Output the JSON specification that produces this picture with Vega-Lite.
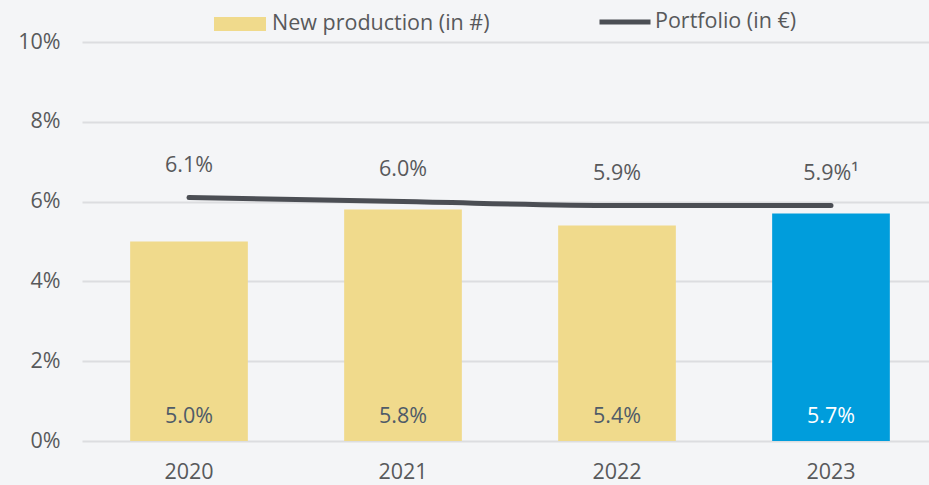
{
  "$schema": "https://vega.github.io/schema/vega-lite/v6.json",
  "width": 847,
  "height": 399,
  "autosize": {"type": "none"},
  "padding": {"left": 82, "top": 42, "right": 0, "bottom": 44},
  "background": "#f4f5f7",
  "config": {
    "view": {"stroke": null},
    "font": "Open Sans",
    "axis": {"labelFont": "Open Sans", "labelFontSize": 21.5, "labelColor": "#58595b", "domain": false, "ticks": false},
    "legend": {"labelFont": "Open Sans", "labelFontSize": 21.5, "labelColor": "#58595b", "labelLimit": 0}
  },
  "data": {
    "values": [
      {"year": "2020", "newprod": 5.0, "portfolio": 6.1, "np_label": "5.0%", "pf_label": "6.1%", "s1": "New production (in #)", "s2": "Portfolio (in €)"},
      {"year": "2021", "newprod": 5.8, "portfolio": 6.0, "np_label": "5.8%", "pf_label": "6.0%", "s1": "New production (in #)", "s2": "Portfolio (in €)"},
      {"year": "2022", "newprod": 5.4, "portfolio": 5.9, "np_label": "5.4%", "pf_label": "5.9%", "s1": "New production (in #)", "s2": "Portfolio (in €)"},
      {"year": "2023", "newprod": 5.7, "portfolio": 5.9, "np_label": "5.7%", "pf_label": "5.9%¹", "s1": "New production (in #)", "s2": "Portfolio (in €)"}
    ]
  },
  "encoding": {
    "x": {
      "field": "year", "type": "nominal", "title": null,
      "scale": {"range": [0, 856], "paddingInner": 0.45, "paddingOuter": 0.225},
      "axis": {"labelAngle": 0, "labelPadding": 20, "grid": false}
    }
  },
  "layer": [
    {
      "mark": {"type": "bar"},
      "encoding": {
        "y": {
          "field": "newprod", "type": "quantitative", "title": null,
          "scale": {"domain": [0, 10]},
          "axis": {"values": [0, 2, 4, 6, 8, 10], "labelExpr": "datum.value + '%'", "labelPadding": 22, "grid": true, "gridColor": "#dcdde0", "gridWidth": 2}
        },
        "fill": {
          "condition": {"test": "datum.year === '2023'", "value": "#009ddc"},
          "field": "s1", "type": "nominal",
          "scale": {"range": ["#f0da8c"]},
          "legend": {"title": null, "orient": "none", "legendX": 132, "legendY": -44, "symbolType": "M-1,-0.27H1V0.27H-1Z", "symbolSize": 2704, "symbolStrokeWidth": 0, "labelOffset": 6}
        }
      }
    },
    {
      "mark": {"type": "text", "fontSize": 21.5, "baseline": "middle", "dy": -24},
      "encoding": {
        "y": {"datum": 0, "type": "quantitative"},
        "text": {"field": "np_label"},
        "color": {"condition": {"test": "datum.year === '2023'", "value": "#ffffff"}, "value": "#4f5b68"}
      }
    },
    {
      "mark": {"type": "line", "interpolate": "monotone", "strokeWidth": 5, "strokeCap": "round"},
      "encoding": {
        "y": {"field": "portfolio", "type": "quantitative"},
        "stroke": {
          "field": "s2", "type": "nominal",
          "scale": {"range": ["#4b4e54"]},
          "legend": {"title": null, "orient": "none", "legendX": 515, "legendY": -48, "symbolType": "M-1,0H1", "symbolSize": 2601, "symbolStrokeWidth": 5, "labelOffset": 2}
        }
      }
    },
    {
      "mark": {"type": "text", "fontSize": 21.5, "baseline": "middle", "dy": -32, "color": "#58595b"},
      "encoding": {
        "y": {"field": "portfolio", "type": "quantitative"},
        "text": {"field": "pf_label"}
      }
    }
  ]
}
